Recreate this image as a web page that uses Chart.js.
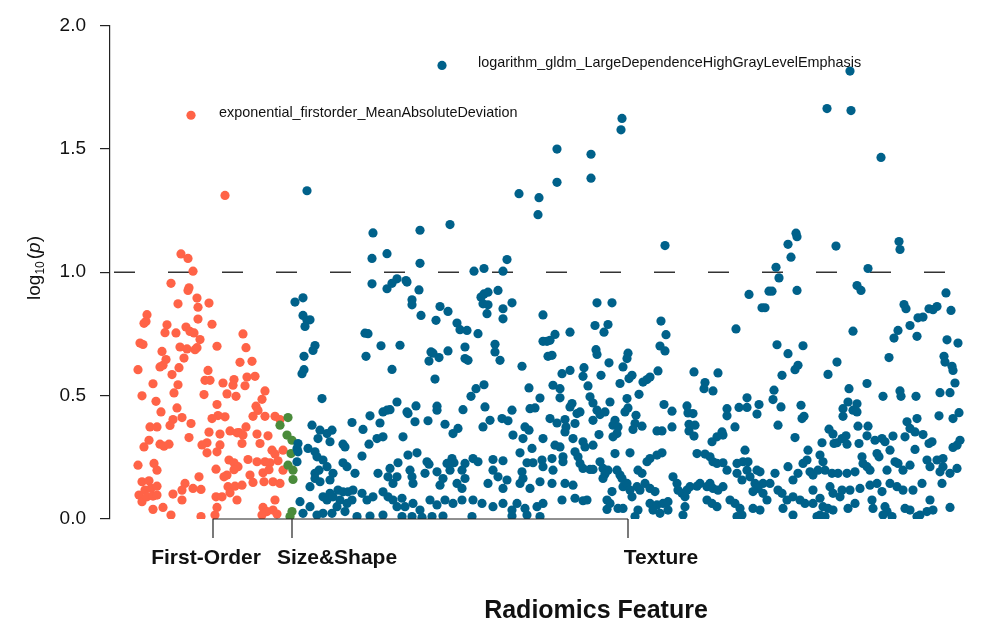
<!DOCTYPE html>
<html>
<head>
<meta charset="utf-8">
<title>Radiomics Feature</title>
<script src="https://cdn.jsdelivr.net/npm/chart.js@4.4.0/dist/chart.umd.min.js"></script>
<style>
  html, body { margin: 0; padding: 0; background: #fff; }
  canvas { display: block; }
</style>
</head>
<body>
<canvas id="manhattan" width="987" height="624"></canvas>
<script>
// ==================== DATA ====================
// each point: [feature position, log10(p)]
const firstOrderPts = [
  [71,1.074],[78,1.056],[83,1.004],[115,1.311],
  [61,0.955],[79,0.937],[78,0.926],[68,0.872],[87,0.895],[99,0.875],[88,0.858],[37,0.828],[36,0.80],[34,0.793],
  [88,0.81],[57,0.787],[55,0.755],[102,0.789],[76,0.778],[80,0.76],[84,0.754],[66,0.754],[133,0.75],[90,0.727],
  [87,0.694],[85,0.686],[30,0.713],[33,0.707],[107,0.70],[70,0.697],[77,0.689],[52,0.679],[136,0.694],[74,0.652],
  [56,0.646],[53,0.623],[50,0.616],[130,0.635],[142,0.639],[28,0.605],[69,0.613],[98,0.602],[95,0.562],[100,0.562],
  [62,0.585],[137,0.575],[145,0.578],[135,0.54],[113,0.551],[124,0.565],[123,0.542],[43,0.548],[68,0.544],[155,0.519],
  [32,0.499],[64,0.511],[94,0.504],[117,0.507],[126,0.497],[152,0.485],[46,0.477],[107,0.464],[146,0.457],[148,0.44],
  [67,0.45],[51,0.434],[155,0.416],[165,0.416],[170,0.403],[143,0.416],[72,0.411],[63,0.403],[60,0.379],[108,0.419],
  [115,0.414],[102,0.407],[40,0.373],[47,0.373],[81,0.387],[136,0.373],[129,0.35],[133,0.34],[99,0.352],[120,0.357],
  [127,0.349],[147,0.344],[79,0.33],[110,0.344],[158,0.337],[34,0.292],[39,0.319],[50,0.303],[54,0.295],[59,0.303],
  [97,0.309],[92,0.30],[97,0.268],[110,0.30],[107,0.272],[132,0.306],[150,0.306],[162,0.279],[165,0.263],[173,0.279],
  [160,0.228],[168,0.236],[119,0.239],[124,0.228],[128,0.212],[124,0.20],[138,0.241],[147,0.232],[155,0.232],[28,0.218],
  [44,0.225],[47,0.198],[106,0.202],[117,0.178],[114,0.171],[140,0.178],[153,0.187],[159,0.20],[173,0.198],[32,0.151],
  [39,0.155],[35,0.117],[41,0.124],[47,0.133],[89,0.171],[75,0.144],[72,0.117],[63,0.101],[83,0.124],[91,0.12],
  [118,0.131],[125,0.133],[132,0.137],[120,0.106],[143,0.148],[154,0.151],[163,0.151],[170,0.144],[106,0.09],[112,0.09],
  [29,0.097],[32,0.07],[37,0.09],[43,0.093],[47,0.097],[72,0.077],[127,0.077],[165,0.077],[43,0.039],[53,0.047],
  [61,0.016],[107,0.047],[105,0.016],[153,0.047],[157,0.03],[163,0.036],[167,0.02],[152,0.016],[91,0.01]
];
const sizeShapePts = [
  [178,0.411],[170,0.38],[177,0.34],[182,0.319],[181,0.265],[178,0.218],[183,0.198],[183,0.16],[182,0.03],[180,0.01]
];
const texturePts = [
  [185,0.879],[193,0.896],[193,0.825],[197,0.805],[200,0.807],[195,0.78],[205,0.703],[203,0.683],[194,0.659],[194,0.605],
  [192,0.589],[212,0.488],[202,0.38],[210,0.36],[217,0.346],[208,0.326],[188,0.306],[187,0.286],[188,0.272],[198,0.286],
  [187,0.232],[205,0.272],[207,0.252],[209,0.198],[205,0.185],[213,0.239],[217,0.212],[205,0.164],[210,0.151],[200,0.131],
  [213,0.09],[217,0.077],[190,0.07],[200,0.05],[193,0.023],[207,0.016],[213,0.023],
  [197,1.33],[263,1.159],[262,1.056],[277,1.075],[310,1.17],[310,1.036],[340,1.193],[364,1.004],[374,1.015],[393,1.004],
  [397,1.051],[409,1.318],[429,1.302],[428,1.233],[287,0.973],[296,0.966],
  [447,1.499],[447,1.364],[481,1.478],[481,1.381],[512,1.623],[511,1.577],[555,1.108],[666,1.02],[669,0.977],[678,1.113],
  [681,1.061],[686,1.158],[687,1.144],[717,1.663],[741,1.655],[740,1.815],[726,1.106],[771,1.465],[758,1.015],[789,1.124],
  [790,1.092],
  [262,0.953],[277,0.933],[282,0.955],[297,0.96],[309,0.928],[302,0.888],[302,0.868],[311,0.825],[330,0.861],[338,0.841],
  [326,0.805],[347,0.794],[350,0.767],[357,0.764],[368,0.751],[371,0.899],[374,0.912],[378,0.919],[373,0.872],[378,0.868],
  [377,0.832],[388,0.926],[393,0.852],[393,0.811],[402,0.876],[433,0.827],[255,0.753],[258,0.751],[271,0.702],[290,0.704],
  [256,0.659],[282,0.606],[321,0.677],[323,0.672],[319,0.64],[329,0.654],[338,0.681],[355,0.697],[355,0.65],[358,0.643],
  [385,0.708],[385,0.677],[390,0.643],[412,0.619],[433,0.72],[437,0.72],[438,0.659],[325,0.567],[374,0.544],[366,0.528],
  [361,0.497],[419,0.531],[430,0.49],[425,0.45],[420,0.447],[287,0.474],[273,0.434],[277,0.441],[280,0.443],[298,0.427],
  [306,0.458],[297,0.434],[260,0.418],[327,0.457],[327,0.441],[353,0.443],[375,0.454],[402,0.441],[242,0.391],[253,0.363],
  [270,0.389],[318,0.398],[305,0.394],[335,0.384],[348,0.367],[343,0.346],[373,0.373],[380,0.40],[392,0.407],[398,0.398],
  [415,0.373],[419,0.36],[267,0.326],[273,0.333],[259,0.303],[293,0.333],[403,0.34],[413,0.326],[422,0.286],[433,0.326],
  [233,0.303],[235,0.292],[220,0.313],[222,0.36],[252,0.255],[233,0.228],[237,0.212],[245,0.185],[298,0.259],[307,0.268],
  [288,0.228],[317,0.232],[319,0.222],[315,0.185],[342,0.245],[344,0.228],[340,0.198],[337,0.225],[363,0.245],[368,0.232],
  [355,0.225],[352,0.198],[383,0.241],[393,0.236],[383,0.198],[388,0.171],[410,0.268],[417,0.228],[423,0.228],[412,0.191],
  [413,0.164],[432,0.239],[433,0.212],[223,0.185],[220,0.158],[268,0.185],[280,0.205],[278,0.171],[287,0.171],[283,0.144],
  [300,0.198],[302,0.171],[303,0.144],[327,0.191],[333,0.164],[330,0.137],[347,0.144],[352,0.124],[355,0.164],[378,0.144],
  [393,0.124],[397,0.158],[410,0.144],[420,0.124],[430,0.151],[220,0.104],[223,0.09],[228,0.117],[233,0.11],[238,0.11],
  [243,0.117],[230,0.077],[237,0.063],[242,0.077],[227,0.05],[235,0.03],[222,0.023],[252,0.104],[257,0.077],[263,0.09],
  [273,0.11],[278,0.09],[283,0.077],[292,0.084],[287,0.05],[295,0.05],[303,0.063],[310,0.036],[320,0.077],[327,0.057],
  [335,0.077],[343,0.063],[352,0.077],[363,0.077],[372,0.063],[383,0.05],[393,0.063],[402,0.036],[407,0.063],[415,0.043],
  [427,0.05],[433,0.063],[247,0.01],[260,0.012],[273,0.016],[292,0.01],[302,0.01],[312,0.007],[322,0.01],[333,0.012],
  [362,0.01],[402,0.012],[417,0.016],[430,0.01],
  [639,0.91],[652,0.856],[655,0.856],[659,0.923],[487,0.876],[502,0.876],[485,0.784],[498,0.788],[494,0.757],[445,0.748],
  [440,0.724],[442,0.663],[460,0.757],[551,0.802],[556,0.747],[550,0.701],[555,0.681],[626,0.77],[486,0.686],[487,0.667],
  [518,0.672],[517,0.65],[513,0.616],[499,0.633],[452,0.589],[460,0.602],[474,0.613],[473,0.578],[491,0.582],[522,0.582],
  [519,0.569],[540,0.575],[537,0.565],[533,0.555],[548,0.60],[510,0.549],[584,0.596],[608,0.592],[595,0.553],[594,0.528],
  [603,0.519],[443,0.542],[450,0.528],[478,0.539],[529,0.505],[450,0.491],[462,0.468],[460,0.454],[480,0.495],[483,0.47],
  [517,0.488],[500,0.474],[554,0.464],[562,0.437],[577,0.458],[578,0.43],[583,0.427],[617,0.447],[617,0.418],[629,0.452],
  [637,0.452],[637,0.491],[649,0.464],[647,0.425],[470,0.434],[467,0.427],[487,0.441],[490,0.423],[495,0.434],[518,0.45],
  [515,0.434],[526,0.42],[525,0.387],[523,0.363],[440,0.407],[455,0.403],[447,0.389],[456,0.373],[455,0.353],[483,0.40],
  [505,0.40],[503,0.38],[508,0.373],[507,0.346],[503,0.333],[465,0.387],[532,0.376],[547,0.357],[552,0.357],[562,0.373],
  [579,0.384],[579,0.357],[584,0.336],[585,0.38],[625,0.373],[612,0.353],[613,0.34],[607,0.333],[602,0.313],[445,0.299],
  [450,0.292],[453,0.252],[463,0.326],[473,0.313],[475,0.292],[483,0.299],[489,0.342],[465,0.272],[468,0.252],[470,0.225],
  [473,0.205],[480,0.201],[483,0.201],[442,0.245],[443,0.198],[442,0.144],[453,0.232],[455,0.144],[463,0.137],[465,0.084],
  [473,0.074],[477,0.077],[505,0.265],[520,0.268],[490,0.232],[493,0.205],[498,0.198],[495,0.182],[493,0.164],[507,0.198],
  [510,0.178],[512,0.164],[513,0.131],[517,0.144],[528,0.198],[532,0.185],[537,0.232],[540,0.245],[547,0.259],[552,0.268],
  [527,0.131],[530,0.117],[535,0.144],[540,0.124],[545,0.111],[452,0.077],[502,0.111],[497,0.077],[500,0.063],[520,0.117],
  [522,0.09],[540,0.063],[547,0.057],[553,0.063],[558,0.07],[543,0.036],[550,0.023],[558,0.036],[528,0.036],[525,0.01],
  [497,0.039],[508,0.043],[513,0.043],[575,0.05],[573,0.016],[563,0.171],[567,0.144],[568,0.117],[572,0.104],[577,0.117],
  [575,0.09],[580,0.131],[587,0.133],[590,0.144],[597,0.131],[600,0.144],[603,0.124],[608,0.117],[613,0.131],[587,0.265],
  [595,0.263],[600,0.252],[603,0.232],[607,0.225],[613,0.228],[617,0.198],[627,0.225],[633,0.232],[638,0.232],[637,0.198],
  [635,0.279],[647,0.198],[650,0.191],[627,0.185],[632,0.158],[640,0.171],[645,0.144],[653,0.144],[648,0.124],[643,0.111],
  [653,0.104],[657,0.077],[597,0.077],[602,0.063],[607,0.05],[620,0.077],[625,0.063],[630,0.043],[632,0.016],[627,0.01],
  [643,0.043],[650,0.036],
  [662,0.923],[687,0.926],[747,0.946],[751,0.926],[743,0.761],[794,0.869],[796,0.852],[808,0.815],[813,0.818],[800,0.784],
  [807,0.74],[819,0.852],[823,0.848],[827,0.861],[836,0.916],[841,0.845],[788,0.764],[784,0.733],[837,0.726],[848,0.713],
  [667,0.706],[693,0.702],[678,0.67],[688,0.623],[685,0.605],[672,0.582],[727,0.636],[718,0.586],[779,0.654],[834,0.659],
  [835,0.636],[842,0.619],[843,0.602],[845,0.551],[757,0.549],[739,0.528],[664,0.522],[663,0.484],[671,0.454],[691,0.461],
  [694,0.416],[692,0.407],[668,0.38],[773,0.497],[790,0.519],[791,0.497],[806,0.497],[830,0.512],[840,0.512],[738,0.474],
  [733,0.447],[747,0.467],[743,0.441],[747,0.434],[733,0.416],[829,0.418],[843,0.407],[849,0.431],[797,0.394],[807,0.407],
  [800,0.367],[805,0.353],[813,0.342],[822,0.313],[819,0.306],[748,0.376],[758,0.376],[685,0.33],[719,0.364],[723,0.344],
  [727,0.309],[732,0.326],[736,0.337],[737,0.303],[724,0.306],[712,0.309],[749,0.306],[757,0.337],[765,0.319],[772,0.326],
  [775,0.313],[783,0.336],[795,0.333],[805,0.282],[850,0.319],[847,0.299],[843,0.29],[698,0.279],[697,0.239],[693,0.225],
  [710,0.259],[713,0.232],[715,0.198],[752,0.252],[753,0.225],[757,0.212],[760,0.198],[767,0.265],[769,0.252],[777,0.198],
  [780,0.279],[785,0.232],[788,0.225],[793,0.198],[800,0.218],[817,0.239],[820,0.212],[827,0.239],[833,0.245],[833,0.212],
  [847,0.205],[840,0.185],[830,0.191],[665,0.185],[678,0.212],[683,0.158],[688,0.185],[700,0.191],[703,0.178],[708,0.198],
  [722,0.185],[728,0.185],[737,0.185],[745,0.191],[660,0.144],[668,0.117],[672,0.104],[677,0.077],[683,0.09],[690,0.077],
  [695,0.063],[703,0.117],[710,0.084],[720,0.131],[723,0.104],[730,0.09],[732,0.117],[740,0.117],[750,0.124],[760,0.137],
  [767,0.144],[772,0.111],[780,0.144],[787,0.131],[793,0.117],[803,0.117],[812,0.144],[820,0.077],[832,0.144],[673,0.043],
  [683,0.016],[703,0.063],[713,0.05],[718,0.043],[723,0.036],[738,0.043],[745,0.063],[762,0.077],[763,0.043],[775,0.05],
  [777,0.03],[795,0.043],[800,0.036],[807,0.01],[817,0.03],[823,0.036],[840,0.047],[707,0.01],[710,0.016],[715,0.01],
  [773,0.016],[782,0.01],[810,0.016]
];

// labelled top features
const highlightNames = ['exponential_firstorder_MeanAbsoluteDeviation', 'logarithm_gldm_LargeDependenceHighGrayLevelEmphasis'];
const highlightPts = [[81,1.636],[332,1.838]];

const yTicks = [0, 0.5, 1.0, 1.5, 2.0];
const threshold = 1.0;
const groupNames = ['First-Order', 'Size&Shape', 'Texture'];
const groupLabelAt = [96, 227, 551];
const groupBreaks = [103, 182, 518];
const xRange = [0, 865];
const xTitleAt = 486;

// ==================== STYLE ====================
const RED = '#FF6347';
const GREEN = '#4A8B3B';
const BLUE = '#00618A';
const FONT = "'Liberation Sans', Arial, sans-serif";

const toXY = pts => pts.map(p => ({ x: p[0], y: p[1] }));

// ==================== CUSTOM DRAWING ====================
const decorations = {
    id: 'decorations',
    afterDatasetsDraw(chart) {
        const { ctx, scales } = chart;
        const xs = scales.x, ys = scales.y;
        ctx.save();

        // bracket under the feature groups
        const base = ys.getPixelForValue(0);
        ctx.strokeStyle = '#222';
        ctx.lineWidth = 1.2;
        ctx.beginPath();
        ctx.moveTo(xs.getPixelForValue(groupBreaks[0]), base);
        ctx.lineTo(xs.getPixelForValue(groupBreaks[groupBreaks.length - 1]), base);
        groupBreaks.forEach(b => {
            const px = xs.getPixelForValue(b);
            ctx.moveTo(px, base);
            ctx.lineTo(px, base + 19);
        });
        ctx.stroke();

        // group names
        ctx.fillStyle = '#111';
        ctx.font = `bold 21px ${FONT}`;
        ctx.textAlign = 'center';
        ctx.textBaseline = 'middle';
        groupNames.forEach((n, i) => ctx.fillText(n, xs.getPixelForValue(groupLabelAt[i]), 558));

        // axis title
        ctx.font = `bold 25px ${FONT}`;
        ctx.fillText('Radiomics Feature', xs.getPixelForValue(xTitleAt), 611);

        // highlighted feature names
        const gaps = [28, 36];
        ctx.font = `14.4px ${FONT}`;
        ctx.textAlign = 'left';
        highlightPts.forEach((p, i) => {
            ctx.fillText(highlightNames[i], xs.getPixelForValue(p[0]) + gaps[i], ys.getPixelForValue(p[1]) - 2.5);
        });

        // y title: log10(p)
        ctx.translate(33, 268);
        ctx.rotate(-Math.PI / 2);
        ctx.textBaseline = 'alphabetic';
        const parts = [
            { t: 'log', f: `19px ${FONT}`, dy: 0 },
            { t: '10', f: `12px ${FONT}`, dy: 4 },
            { t: '(', f: `19px ${FONT}`, dy: 0 },
            { t: 'p', f: `italic 19px ${FONT}`, dy: 0 },
            { t: ')', f: `19px ${FONT}`, dy: 0 }
        ];
        let total = 0;
        parts.forEach(p => { ctx.font = p.f; p.w = ctx.measureText(p.t).width + (p.t === '10' ? 2 : 0); total += p.w; });
        let cx = -total / 2;
        parts.forEach(p => { ctx.font = p.f; ctx.fillText(p.t, cx, 7 + p.dy); cx += p.w; });

        ctx.restore();
    }
};

// ==================== CHART ====================
const pointSet = (label, pts, color) => ({
    type: 'scatter',
    label: label,
    data: toXY(pts),
    backgroundColor: color,
    borderWidth: 0,
    pointRadius: 4.6,
    pointHoverRadius: 4.6,
    order: 1
});

new Chart(document.getElementById('manhattan'), {
    type: 'scatter',
    data: {
        datasets: [
            {
                type: 'line',
                label: 'threshold',
                data: [{ x: xRange[0], y: threshold }, { x: xRange[1], y: threshold }],
                borderColor: '#333',
                borderWidth: 1.4,
                borderDash: [21, 33],
                borderDashOffset: -4,
                pointRadius: 0,
                order: 5
            },
            pointSet('Texture', texturePts, BLUE),
            pointSet('Size&Shape', sizeShapePts, GREEN),
            pointSet('First-Order', firstOrderPts, RED),
            {
                type: 'scatter',
                label: 'highlight',
                data: toXY(highlightPts),
                backgroundColor: [RED, BLUE],
                borderWidth: 0,
                pointRadius: 4.6,
                order: 0
            }
        ]
    },
    options: {
        responsive: false,
        animation: false,
        layout: { padding: { top: 24, right: 12, left: 0, bottom: 0 } },
        plugins: { legend: { display: false }, tooltip: { enabled: false } },
        scales: {
            x: {
                type: 'linear',
                min: xRange[0],
                max: xRange[1],
                grid: { display: false },
                border: { display: false },
                ticks: { display: false },
                afterFit: s => { s.height = 105; }
            },
            y: {
                min: 0,
                max: 2,
                afterBuildTicks: s => { s.ticks = yTicks.map(v => ({ value: v })); },
                ticks: {
                    callback: v => Number(v).toFixed(1),
                    color: '#111',
                    font: { family: FONT, size: 19 },
                    padding: 14
                },
                grid: { drawOnChartArea: false, tickLength: 10, color: '#222', lineWidth: 1.2 },
                border: { display: true, color: '#222', width: 1.2 },
                afterFit: s => { s.width = 110; }
            }
        }
    },
    plugins: [decorations]
});
</script>
</body>
</html>
